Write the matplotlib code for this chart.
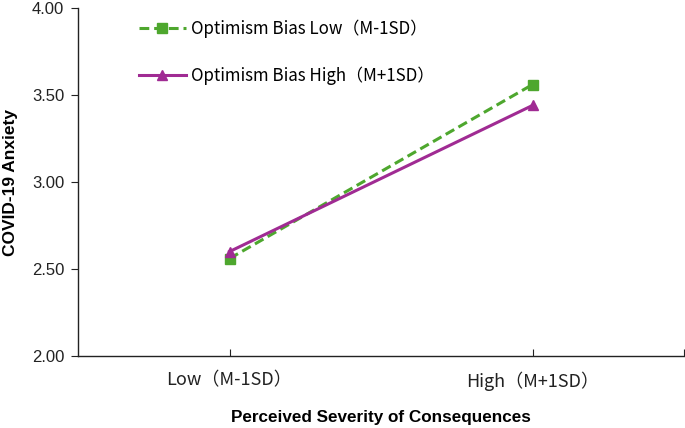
import matplotlib
matplotlib.use("Agg")
import matplotlib.pyplot as plt

# data
categories = ["Low（M-1SD）", "High（M+1SD）"]
low_bias = [2.56, 3.56]
high_bias = [2.60, 3.44]
series_names = ["Optimism Bias Low（M-1SD）", "Optimism Bias High（M+1SD）"]
y_ticks = [2.00, 2.50, 3.00, 3.50, 4.00]

plt.rcParams["font.family"] = ["Noto Sans CJK SC", "DejaVu Sans"]

fig = plt.figure(figsize=(6.85, 4.28), dpi=100)
ax = fig.add_axes([78 / 685, 1 - 356 / 428, 606 / 685, 348 / 428])

x = list(range(len(categories)))
ax.plot(x, low_bias, color="#4EA72E", linestyle=(0, (3.2, 1.6)), linewidth=2.2,
        marker="s", markersize=7, label=series_names[0])
ax.plot(x, high_bias, color="#A02B93", linestyle="-", linewidth=2.2,
        marker="^", markersize=7, label=series_names[1])

ax.set_xlim(-0.5, 1.5)
ax.set_ylim(2.0, 4.0)
ax.set_xticks(x + [1.5])
ax.set_xticklabels(categories + [""], fontsize=13)
ax.set_yticks(y_ticks)
ax.set_yticklabels([f"{v:.2f}" for v in y_ticks], fontsize=12, family="Liberation Sans")
ax.tick_params(axis="x", direction="in", length=5, pad=11, colors="#222222")
ax.tick_params(axis="y", direction="out", length=5, pad=5, colors="#222222")

for side in ["top", "right"]:
    ax.spines[side].set_visible(False)
for side in ["left", "bottom"]:
    ax.spines[side].set_color("#222222")
    ax.spines[side].set_linewidth(1)

ax.set_xlabel("Perceived Severity of Consequences", fontsize=12.3, fontweight="bold",
              family="Liberation Sans", labelpad=14)
ax.set_ylabel("COVID-19 Anxiety", fontsize=12.5, fontweight="bold",
              family="Liberation Sans", labelpad=10)

ax.legend(loc="upper left", bbox_to_anchor=(0.075, 1.01), frameon=False, fontsize=12.2,
          handlelength=2.8, labelspacing=1.65, handletextpad=0.3)

fig.savefig("out.png", dpi=100)
